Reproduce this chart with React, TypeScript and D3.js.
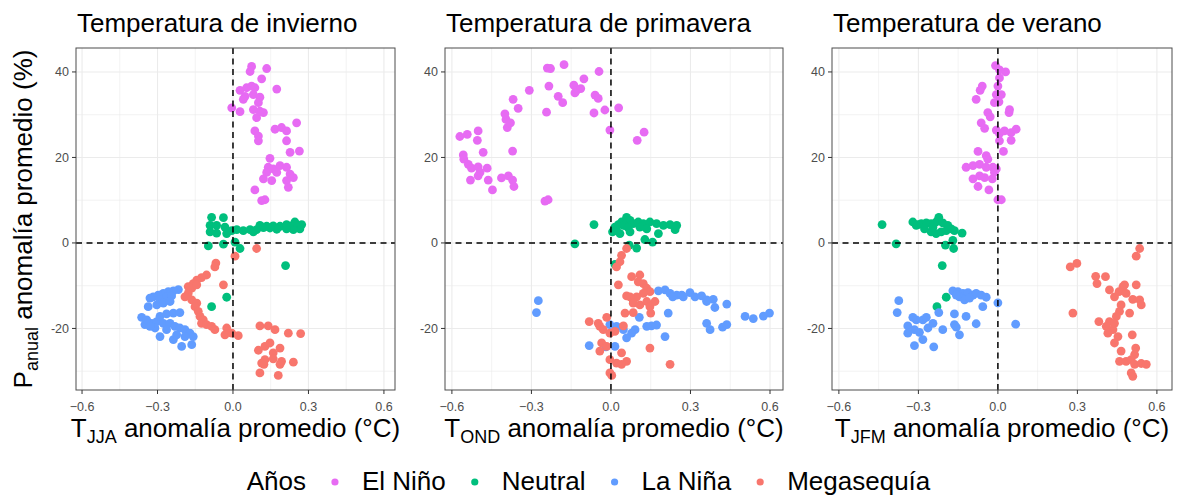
import React from 'react';
import * as d3 from 'd3';

type Pt = [number, number];

const FONT = "'Liberation Sans', Arial, Helvetica, sans-serif";

// Groups (legend order) and colours
const groups = ['El Niño', 'Neutral', 'La Niña', 'Megasequía'];
const groupColors = ['#E76BF3', '#00BF7D', '#619CFF', '#F8766D'];
const legendTitle = 'Años';

// Axes
const xTicks = [-0.6, -0.3, 0, 0.3, 0.6];
const xMinor = [-0.45, -0.15, 0.15, 0.45];
const yTicks = [-20, 0, 20, 40];
const yMinor = [-30, -10, 10, 30];
const panelTitles = ['Temperatura de invierno', 'Temperatura de primavera', 'Temperatura de verano'];
const seasonSubs = ['JJA', 'OND', 'JFM'];

// ---- Winter (JJA) ----
const winterNino: Pt[] = [
  [0.074, 41.3], [0.068, 40.1], [0.134, 40.8], [0.114, 38.4], [0.174, 36.0], [0.028, 35.7], [0.054, 36.3],
  [0.074, 36.7], [0.087, 36.3], [0.048, 34.3], [0.041, 33.6], [0.081, 34.7], [0.107, 34.1], [0.101, 32.8],
  [0.081, 31.2], [0.121, 30.5], [-0.005, 31.6], [0.028, 30.7], [0.094, 29.3], [0.087, 26.2], [0.101, 25.0],
  [0.101, 23.9], [0.167, 26.6], [0.193, 27.0], [0.213, 26.2], [0.213, 23.9], [0.253, 28.1], [0.227, 21.2],
  [0.264, 21.5], [0.147, 19.8], [0.140, 17.7], [0.134, 16.5], [0.160, 17.3], [0.187, 18.1], [0.213, 17.7],
  [0.227, 16.1], [0.240, 15.3], [0.121, 15.0], [0.154, 14.6], [0.213, 14.6], [0.220, 13.0], [0.087, 12.4],
  [0.114, 9.9], [0.127, 10.1], [0.174, 16.5], [0.107, 30.8],
];
const winterNeutral: Pt[] = [
  [-0.085, 6.0], [-0.038, 5.9], [-0.091, 4.1], [-0.065, 4.1], [-0.032, 3.7], [-0.005, 2.9], [0.015, 3.1],
  [0.041, 2.9], [0.068, 3.1], [0.107, 4.1], [0.134, 3.9], [0.160, 4.0], [0.187, 3.9], [0.213, 4.3],
  [0.233, 4.0], [0.253, 4.1], [0.273, 4.3], [0.266, 3.3], [0.240, 3.1], [0.213, 3.3], [0.174, 3.2],
  [0.121, 3.6], [0.081, 2.6], [-0.091, 2.6], [-0.065, 2.3], [-0.025, 2.2], [0.008, 0.2], [0.028, -1.3],
  [-0.038, -0.3], [-0.098, -0.7], [0.209, -5.3], [-0.025, -12.7], [-0.085, -14.9], [0.094, 3.1],
  [0.147, 3.5], [0.246, 4.9],
];
const winterNina: Pt[] = [
  [-0.217, -10.9], [-0.237, -11.2], [-0.257, -11.4], [-0.277, -11.8], [-0.297, -12.2], [-0.317, -12.6],
  [-0.330, -12.9], [-0.290, -13.2], [-0.264, -12.6], [-0.244, -12.4], [-0.337, -14.9], [-0.303, -14.5],
  [-0.277, -14.1], [-0.250, -13.7], [-0.363, -17.4], [-0.350, -19.1], [-0.323, -18.8], [-0.303, -18.4],
  [-0.290, -17.2], [-0.264, -16.6], [-0.237, -16.4], [-0.211, -16.3], [-0.277, -18.8], [-0.250, -18.8],
  [-0.231, -19.5], [-0.211, -19.9], [-0.191, -20.3], [-0.171, -21.1], [-0.158, -21.9], [-0.290, -21.9],
  [-0.237, -22.6], [-0.204, -24.2], [-0.164, -23.8], [-0.310, -19.9], [-0.264, -20.3], [-0.224, -21.5],
  [-0.191, -21.9], [-0.343, -18.0], [-0.330, -19.5],
];
const winterMega: Pt[] = [
  [0.094, -1.3], [0.008, -3.1], [-0.068, -4.7], [-0.072, -5.6], [-0.105, -7.5], [-0.125, -8.1], [-0.144, -8.7],
  [-0.158, -9.5], [-0.164, -10.6], [-0.178, -11.8], [-0.191, -12.6], [-0.164, -13.3], [-0.144, -14.1],
  [-0.151, -14.9], [-0.138, -16.0], [-0.131, -17.2], [-0.118, -18.0], [-0.125, -18.8], [-0.105, -19.1],
  [-0.085, -19.5], [-0.072, -20.3], [-0.038, -9.8], [-0.025, -19.9], [-0.032, -21.5], [-0.005, -21.1],
  [0.021, -21.7], [-0.144, -9.8], [-0.178, -10.2], [0.107, -19.4], [0.140, -19.4], [0.167, -20.3],
  [0.220, -21.1], [0.269, -21.2], [0.101, -25.1], [0.127, -24.2], [0.147, -23.4], [0.187, -24.6],
  [0.160, -25.7], [0.127, -27.3], [0.160, -27.1], [0.193, -27.7], [0.240, -27.9], [0.114, -28.1],
  [0.187, -28.4], [0.107, -30.4], [0.180, -31.0], [0.123, -28.4],
];

// ---- Spring (OND) ----
const springNino: Pt[] = [
  [-0.570, 24.9], [-0.542, 25.4], [-0.501, 26.2], [-0.504, 24.0], [-0.557, 20.6], [-0.555, 19.6], [-0.538, 18.4],
  [-0.526, 17.5], [-0.501, 17.8], [-0.467, 17.5], [-0.482, 21.2], [-0.530, 14.7], [-0.501, 15.7], [-0.494, 16.5],
  [-0.463, 14.7], [-0.447, 12.4], [-0.413, 15.2], [-0.387, 15.7], [-0.371, 14.7], [-0.366, 13.2], [-0.371, 21.5],
  [-0.391, 27.0], [-0.396, 28.9], [-0.400, 30.2], [-0.379, 28.1], [-0.369, 33.6], [-0.350, 31.5], [-0.308, 35.7],
  [-0.243, 30.6], [-0.240, 40.9], [-0.228, 40.8], [-0.234, 36.7], [-0.199, 34.3], [-0.182, 32.8], [-0.177, 41.7],
  [-0.140, 36.9], [-0.130, 35.7], [-0.114, 36.1], [-0.102, 38.4], [-0.136, 35.1], [-0.045, 40.1], [-0.060, 34.6],
  [-0.048, 33.8], [-0.064, 30.4], [-0.023, 31.1], [0.029, 31.6], [-0.004, 26.4], [0.099, 24.0], [0.125, 25.9],
  [-0.249, 9.8], [-0.237, 10.1],
];
const springNeutral: Pt[] = [
  [-0.136, -0.2], [-0.064, 4.3], [0.006, 2.6], [0.015, 3.7], [0.028, 4.3], [0.040, 4.9], [0.059, 6.0],
  [0.072, 5.3], [0.053, 4.1], [0.084, 4.5], [0.103, 4.9], [0.122, 4.5], [0.147, 4.9], [0.172, 4.5],
  [0.198, 4.1], [0.223, 4.3], [0.248, 4.1], [0.242, 3.1], [0.179, 2.2], [0.135, 3.3], [0.109, 3.7],
  [0.072, 2.6], [0.034, 2.2], [0.021, 2.9], [0.128, 0.8], [0.157, 0.2], [0.069, -0.5], [0.097, -1.2],
  [0.015, -5.0], [0.084, -13.3], [0.047, 4.1], [0.065, 3.6],
];
const springNina: Pt[] = [
  [0.179, -11.2], [0.204, -11.0], [0.223, -11.8], [0.248, -12.2], [0.267, -12.2], [0.298, -11.6], [0.317, -12.6],
  [0.342, -12.4], [0.361, -13.3], [0.386, -13.2], [0.392, -15.1], [0.437, -14.3], [0.361, -13.7], [0.273, -12.6],
  [0.233, -12.6], [-0.274, -13.5], [-0.281, -16.3], [0.506, -17.2], [0.537, -17.7], [0.575, -17.1], [0.598, -16.4],
  [0.361, -18.8], [0.374, -20.3], [0.421, -19.7], [0.437, -19.1], [0.216, -16.4], [0.204, -21.9], [0.172, -19.2],
  [0.153, -19.4], [0.135, -19.5], [0.107, -17.4], [0.091, -20.3], [0.078, -21.1], [0.059, -22.2], [0.047, -20.3],
  [0.021, -19.5], [-0.004, -19.1], [-0.082, -24.0], [-0.019, -24.3], [0.015, -24.2],
];
const springMega: Pt[] = [
  [0.059, -1.3], [0.040, -2.9], [0.034, -4.4], [0.021, -5.6], [0.028, -9.8], [0.078, -7.9], [0.109, -7.5],
  [0.103, -9.1], [0.122, -9.5], [0.135, -10.6], [0.147, -11.4], [0.122, -11.8], [0.097, -12.6], [0.072, -12.6],
  [0.059, -12.4], [0.084, -14.1], [0.109, -14.5], [0.135, -13.7], [0.166, -13.7], [0.147, -14.9], [0.150, -16.4],
  [0.084, -16.3], [0.053, -16.4], [-0.016, -17.4], [-0.082, -18.4], [-0.048, -18.8], [-0.042, -19.5],
  [-0.029, -20.3], [-0.004, -21.1], [0.015, -20.7], [0.047, -19.4], [-0.035, -23.4], [-0.016, -24.2],
  [-0.042, -25.3], [-0.004, -27.3], [0.021, -28.1], [0.040, -25.7], [0.059, -27.7], [0.040, -28.4],
  [0.147, -24.6], [0.223, -28.4], [-0.004, -30.4], [0.003, -31.0],
];

// ---- Summer (JFM) ----
const summerNino: Pt[] = [
  [-0.009, 41.5], [0.006, 40.5], [0.029, 40.0], [0.006, 38.6], [-0.059, 36.7], [-0.067, 35.7], [0.000, 36.7],
  [-0.006, 34.7], [0.013, 34.7], [0.004, 33.0], [-0.013, 32.8], [-0.082, 33.6], [-0.038, 30.5], [-0.029, 29.5],
  [0.044, 31.2], [0.042, 30.5], [-0.063, 28.1], [-0.050, 26.8], [-0.006, 26.4], [0.006, 25.6], [0.025, 26.2],
  [0.050, 25.8], [0.069, 26.6], [0.050, 24.0], [0.021, 21.4], [-0.075, 21.4], [-0.044, 20.4], [-0.038, 19.6],
  [-0.120, 17.7], [-0.094, 18.1], [-0.069, 18.4], [-0.044, 17.7], [-0.019, 17.7], [-0.006, 17.3], [-0.094, 15.0],
  [-0.069, 15.7], [-0.050, 15.3], [-0.021, 15.0], [-0.075, 13.2], [-0.034, 12.4], [0.000, 10.1], [0.013, 10.1],
  [0.006, 23.9], [-0.013, 16.5],
];
const summerNeutral: Pt[] = [
  [-0.437, 4.3], [-0.384, -0.2], [-0.321, 4.9], [-0.308, 4.1], [-0.289, 4.5], [-0.270, 4.7], [-0.252, 4.5],
  [-0.233, 4.9], [-0.223, 6.0], [-0.208, 4.7], [-0.189, 4.1], [-0.176, 3.3], [-0.164, 2.9], [-0.135, 2.3],
  [-0.252, 2.6], [-0.233, 2.2], [-0.214, 2.6], [-0.277, 3.3], [-0.195, 2.9], [-0.170, 0.6], [-0.198, -0.5],
  [-0.167, -1.3], [-0.210, -5.3], [-0.230, -14.9], [-0.195, -12.7], [-0.302, 4.3], [-0.245, 3.7],
];
const summerNina: Pt[] = [
  [-0.374, -13.5], [-0.380, -16.3], [-0.170, -11.2], [-0.151, -11.4], [-0.132, -11.8], [-0.113, -11.6],
  [-0.094, -12.2], [-0.082, -11.8], [-0.063, -12.2], [-0.044, -12.7], [-0.145, -12.6], [-0.126, -13.3],
  [-0.107, -12.9], [-0.157, -12.2], [-0.057, -14.9], [0.000, -14.0], [0.067, -19.0], [-0.082, -18.9],
  [-0.120, -17.2], [-0.145, -21.5], [-0.164, -19.1], [-0.157, -19.7], [-0.164, -16.6], [-0.223, -16.3],
  [-0.208, -20.3], [-0.242, -24.3], [-0.321, -17.4], [-0.308, -18.0], [-0.283, -18.0], [-0.270, -17.4],
  [-0.340, -19.4], [-0.315, -20.3], [-0.296, -20.9], [-0.283, -22.6], [-0.315, -24.0], [-0.264, -19.9],
  [-0.245, -18.8], [-0.340, -21.1],
];
const summerMega: Pt[] = [
  [0.535, -1.3], [0.522, -3.1], [0.273, -5.6], [0.298, -4.8], [0.283, -16.4], [0.369, -7.8], [0.374, -9.5],
  [0.406, -7.9], [0.421, -11.0], [0.440, -12.6], [0.457, -11.4], [0.472, -10.2], [0.478, -9.8], [0.484, -11.8],
  [0.465, -14.5], [0.459, -16.0], [0.447, -17.2], [0.421, -18.4], [0.381, -18.4], [0.409, -19.5], [0.440, -18.8],
  [0.434, -20.3], [0.453, -21.9], [0.440, -23.4], [0.465, -25.3], [0.459, -27.7], [0.484, -27.7], [0.503, -27.3],
  [0.516, -26.1], [0.520, -24.6], [0.516, -28.4], [0.541, -28.2], [0.560, -28.4], [0.503, -30.4], [0.509, -31.2],
  [0.522, -9.8], [0.509, -13.2], [0.535, -13.3], [0.541, -14.5], [0.497, -16.4], [0.507, -21.5], [0.415, -21.1],
];

const panelData: Pt[][][] = [
  [winterNino, winterNeutral, winterNina, winterMega],
  [springNino, springNeutral, springNina, springMega],
  [summerNino, summerNeutral, summerNina, summerMega],
];

// layout
const W = 1177;
const H = 495;
const panelX: [number, number][] = [[76, 395], [445, 783], [832, 1172]];
const xDomains: [number, number][] = [[-0.624, 0.644], [-0.626, 0.649], [-0.626, 0.657]];
const yScale = d3.scaleLinear().domain([-34.4, 45.6]).range([390, 48]);

let ctx: CanvasRenderingContext2D | null = null;
const textWidth = (t: string, size: number) => {
  if (!ctx) ctx = document.createElement('canvas').getContext('2d');
  if (!ctx) return t.length * size * 0.55;
  ctx.font = `${size}px ${FONT}`;
  return ctx.measureText(t).width;
};

const fmtX = (v: number) => d3.format('.1f')(v);

const Panel: React.FC<{ idx: number }> = ({ idx }) => {
  const [x0, x1] = panelX[idx];
  const x = d3.scaleLinear().domain(xDomains[idx]).range([x0, x1]);
  const [yb, yt] = yScale.range();
  const cx = (x0 + x1) / 2;
  return (
    <g>
      <rect x={x0} y={yt} width={x1 - x0} height={yb - yt} fill="#fff" />
      {xMinor.map(v => (
        <line key={'xm' + v} x1={x(v)} x2={x(v)} y1={yt} y2={yb} stroke="#EBEBEB" strokeWidth={0.6} />
      ))}
      {yMinor.map(v => (
        <line key={'ym' + v} x1={x0} x2={x1} y1={yScale(v)} y2={yScale(v)} stroke="#EBEBEB" strokeWidth={0.6} />
      ))}
      {xTicks.map(v => (
        <line key={'xg' + v} x1={x(v)} x2={x(v)} y1={yt} y2={yb} stroke="#EBEBEB" strokeWidth={1.1} />
      ))}
      {yTicks.map(v => (
        <line key={'yg' + v} x1={x0} x2={x1} y1={yScale(v)} y2={yScale(v)} stroke="#EBEBEB" strokeWidth={1.1} />
      ))}
      {panelData[idx].map((pts, g) => (
        <g key={g} fill={groupColors[g]}>
          {pts.map((p, i) => (
            <circle key={i} cx={x(p[0])} cy={yScale(p[1])} r={4.4} />
          ))}
        </g>
      ))}
      <line x1={x(0)} x2={x(0)} y1={yt} y2={yb} stroke="#000" strokeWidth={1.5} strokeDasharray="6,4.5" />
      <line x1={x0} x2={x1} y1={yScale(0)} y2={yScale(0)} stroke="#000" strokeWidth={1.5} strokeDasharray="6,4.5" />
      <rect x={x0} y={yt} width={x1 - x0} height={yb - yt} fill="none" stroke="#4d4d4d" strokeWidth={1} />
      {xTicks.map(v => (
        <g key={'xt' + v}>
          <line x1={x(v)} x2={x(v)} y1={yb} y2={yb + 4} stroke="#333" strokeWidth={1} />
          <text x={x(v)} y={411} textAnchor="middle" fontSize={12.5} fill="#4D4D4D">{fmtX(v)}</text>
        </g>
      ))}
      {yTicks.map(v => (
        <g key={'yt' + v}>
          <line x1={x0 - 4} x2={x0} y1={yScale(v)} y2={yScale(v)} stroke="#333" strokeWidth={1} />
          <text x={x0 - 7} y={yScale(v)} dy="0.35em" textAnchor="end" fontSize={12.5} fill="#4D4D4D">{v}</text>
        </g>
      ))}
      <text x={x0 + 1} y={32} fontSize={26} fill="#000">{panelTitles[idx]}</text>
      <text x={cx} y={437} textAnchor="middle" fontSize={26} fill="#000">
        T<tspan fontSize={18} dy={6}>{seasonSubs[idx]}</tspan>
        <tspan dy={-6}> anomalía promedio (°C)</tspan>
      </text>
    </g>
  );
};

const Legend: React.FC = () => {
  const fs = 26;
  const gapToDot = 29;
  const gapToText = 27;
  const wTitle = textWidth(legendTitle, fs);
  const wLabels = groups.map(g => textWidth(g, fs));
  const total = wTitle + groups.length * (gapToDot + gapToText) + d3.sum(wLabels);
  let cur = W / 2 - total / 2;
  const items: React.ReactNode[] = [];
  items.push(<text key="t" x={cur} y={490} fontSize={fs}>{legendTitle}</text>);
  cur += wTitle;
  groups.forEach((g, i) => {
    cur += gapToDot;
    items.push(<circle key={'c' + i} cx={cur} cy={482} r={3.6} fill={groupColors[i]} />);
    cur += gapToText;
    items.push(<text key={'l' + i} x={cur} y={490} fontSize={fs}>{g}</text>);
    cur += wLabels[i];
  });
  return <g>{items}</g>;
};

export default function App() {
  const yMid = (yScale.range()[0] + yScale.range()[1]) / 2;
  return (
    <svg
      width={W}
      height={H}
      style={{ position: 'absolute', left: 0, top: 0, background: '#fff' }}
      fontFamily={FONT}
    >
      <rect width={W} height={H} fill="#fff" />
      {panelTitles.map((_, i) => (
        <Panel key={i} idx={i} />
      ))}
      <text transform={`translate(32,${yMid}) rotate(-90)`} textAnchor="middle" fontSize={26} fill="#000">
        P<tspan fontSize={18} dy={6}>anual</tspan>
        <tspan dy={-6}> anomalía promedio (%)</tspan>
      </text>
      <Legend />
    </svg>
  );
}
